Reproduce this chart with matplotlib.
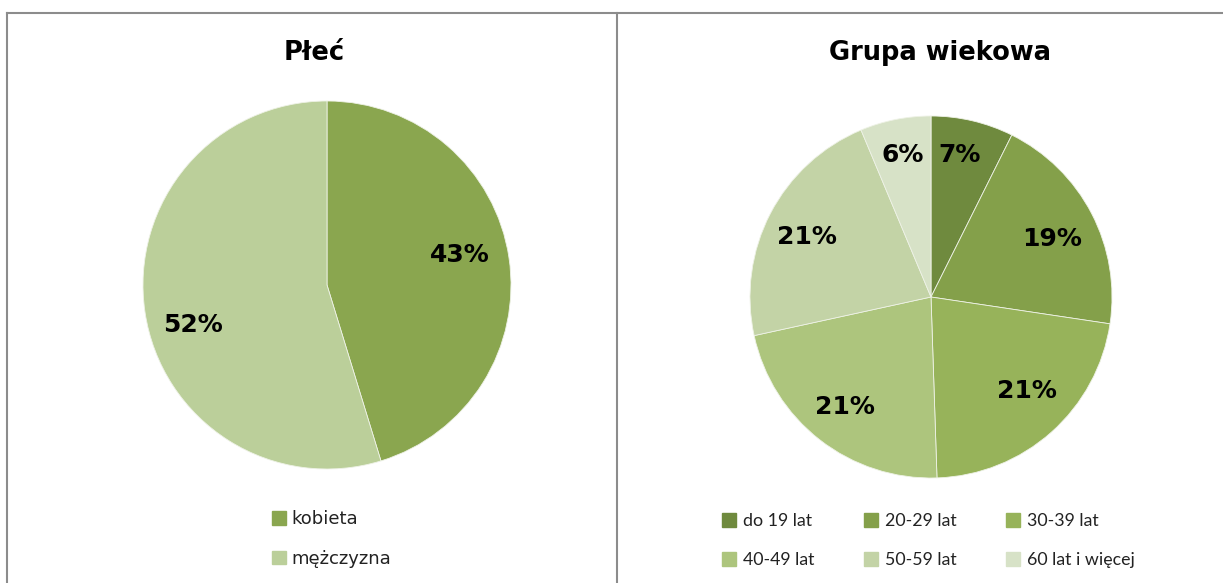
import numpy as np
import matplotlib.pyplot as plt
from matplotlib.patches import Patch
from matplotlib.lines import Line2D

# data
plec_labels = ['kobieta', 'mężczyzna']
plec_values = [43, 52]
plec_colors = ['#8aa64f', '#bbcf9a']

wiek_labels = ['do 19 lat', '20-29 lat', '30-39 lat', '40-49 lat', '50-59 lat', '60 lat i więcej']
wiek_values = [7, 19, 21, 21, 21, 6]
wiek_colors = ['#6f8a3e', '#84a04a', '#97b35a', '#adc57d', '#c3d3a6', '#d7e2c7']

W, H = 1223, 583
fig = plt.figure(figsize=(W / 100, H / 100), dpi=100)
fig.patch.set_facecolor('white')

title_font = dict(family=['DejaVu Sans'], fontsize=18.5, fontweight='bold')
pct_font = dict(family=['DejaVu Sans'], fontsize=18, fontweight='bold')


def px(x, y):
    return x / W, 1 - y / H


# frame lines
for xs, ys in [((7, 1223), (13, 13)), ((7, 7), (13, 583)), ((617, 617), (13, 583))]:
    fig.add_artist(Line2D([xs[0] / W, xs[1] / W], [1 - ys[0] / H, 1 - ys[1] / H],
                          color='#8c8c8c', lw=1.5))


def draw_pie(cx, cy, r, values, colors, dists, turns):
    ax = fig.add_axes([(cx - r) / W, 1 - (cy + r) / H, 2 * r / W, 2 * r / H])
    wedges, texts = ax.pie(values, colors=colors, startangle=90, counterclock=False,
                           labels=[f'{v}%' for v in values], labeldistance=1.0,
                           wedgeprops=dict(edgecolor='#eef2e6', linewidth=0.6))
    for t, d, a in zip(texts, dists, turns):
        x, y = t.get_position()
        ang = np.arctan2(y, x) + np.radians(a)
        t.set_position((d * np.cos(ang), d * np.sin(ang)))
        t.set_ha('center')
        t.set_va('center')
        t.set(**pct_font)
    ax.set_xlim(-1, 1)
    ax.set_ylim(-1, 1)
    ax.set_aspect('equal')
    return ax, wedges


ax1, w1 = draw_pie(327, 285, 184, plec_values, plec_colors, [0.74, 0.76], [4, 8])
ax2, w2 = draw_pie(931, 297, 181, wiek_values, wiek_colors,
                   [0.8, 0.74, 0.74, 0.77, 0.76, 0.8], [2, -2, 4, 0, 1.5, 0])

fig.text(*px(314, 53), 'Płeć', ha='center', va='center', **title_font)
fig.text(*px(940, 53), 'Grupa wiekowa', ha='center', va='center', **title_font)

# legends
leg1 = fig.legend([Patch(color=c) for c in plec_colors], plec_labels,
                  loc='upper left', bbox_to_anchor=px(256, 494), ncol=1, frameon=False,
                  prop=dict(family=['DejaVu Sans'], size=13),
                  handlelength=0.75, handleheight=0.75, handletextpad=0.3, labelspacing=1.2)
for t in leg1.get_texts():
    t.set_color('#222222')

order = [0, 3, 1, 4, 2, 5]  # fill rows first
leg2 = fig.legend([Patch(color=wiek_colors[i]) for i in order], [wiek_labels[i] for i in order],
                  loc='upper left', bbox_to_anchor=px(706, 497), ncol=3, frameon=False,
                  prop=dict(family=['Lato', 'DejaVu Sans'], size=12.8),
                  handlelength=0.8, handleheight=0.8, handletextpad=0.4,
                  labelspacing=1.3, columnspacing=2.75)
for t in leg2.get_texts():
    t.set_color('#222222')

fig.savefig('out.png', dpi=100)
